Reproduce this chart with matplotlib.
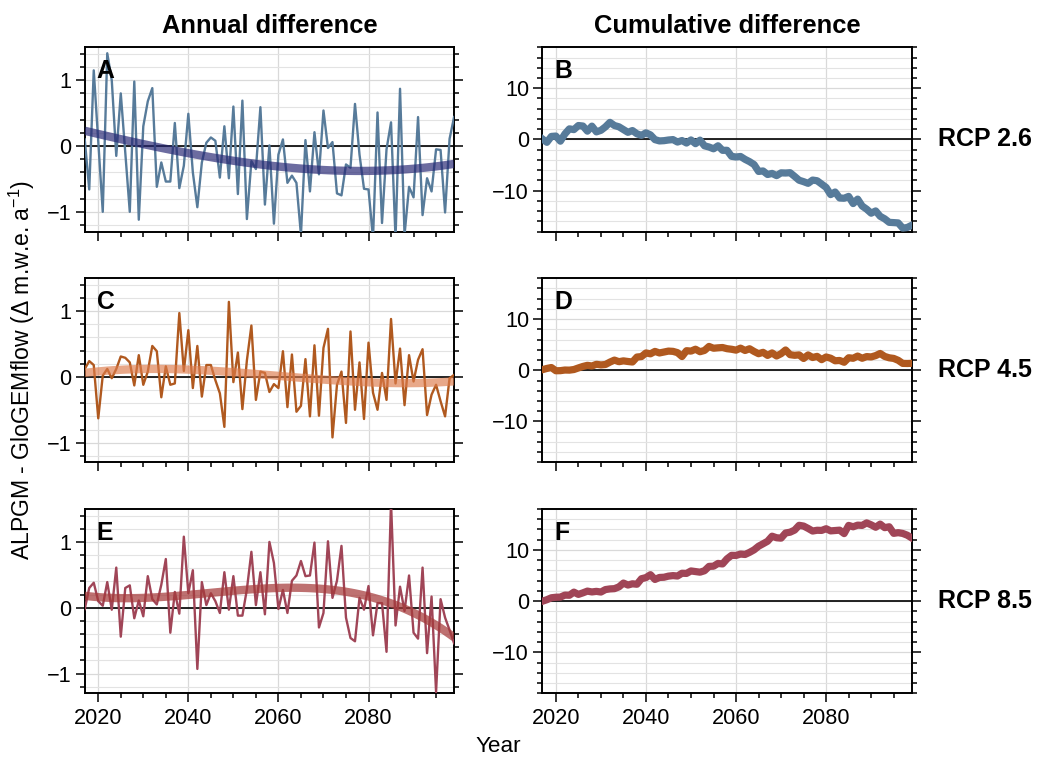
import numpy as np
import matplotlib
matplotlib.use('Agg')
import matplotlib.pyplot as plt
from matplotlib.ticker import MultipleLocator

plt.rcParams['font.family'] = ['Liberation Sans', 'DejaVu Sans']
plt.rcParams['mathtext.fontset'] = 'custom'
plt.rcParams['mathtext.rm'] = 'Liberation Sans'
plt.rcParams['mathtext.default'] = 'regular'
plt.rcParams['axes.unicode_minus'] = True

years = np.arange(2017, 2100)

# annual ALPGM - GloGEMflow difference (m w.e. a-1)
rcp26_annual = [
    0.10, -0.66, 1.15, 0.07, -1.00, 1.41, 1.00, -0.15, 0.80, -0.10,
    -1.00, 0.98, -1.12, 0.30, 0.68, 0.88, -0.62, -0.25, -0.54, -0.54,
    0.35, -0.64, -0.30, 0.49, -0.40, -0.93, -0.25, 0.05, 0.13, 0.08,
    -0.48, 0.30, -0.49, 0.60, -0.73, 0.69, -1.11, -0.23, -0.35, 0.59,
    -0.89, 0.01, -1.18, -0.13, 0.10, -0.56, -0.45, -0.56, -1.35, 0.09,
    -0.69, 0.21, -0.43, 0.54, -0.03, 0.06, -0.72, -0.75, -0.28, -0.33,
    0.64, -0.13, -0.65, -0.66, -1.40, 0.51, -1.17, -0.05, 0.36, -1.40,
    0.87, -1.35, -0.62, -0.78, 0.44, -1.05, -0.49, -0.69, -0.05, -0.06,
    -1.01, 0.11, 0.44,
]
rcp45_annual = [
    0.12, 0.24, 0.18, -0.63, 0.02, 0.12, -0.02, 0.12, 0.31, 0.29,
    0.22, -0.13, 0.33, -0.12, 0.08, 0.47, 0.39, -0.31, 0.16, -0.12,
    -0.10, 0.97, 0.09, 0.71, -0.17, 0.47, -0.30, 0.18, 0.18, -0.05,
    -0.25, -0.76, 1.14, -0.08, 0.37, -0.49, 0.25, 0.78, -0.35, 0.08,
    0.06, -0.23, -0.11, -0.17, 0.39, -0.46, 0.34, -0.53, -0.44, 0.27,
    -0.60, 0.48, -0.59, 0.44, 0.73, -0.92, -0.12, 0.08, -0.70, 0.69,
    -0.50, 0.22, -0.64, 0.52, -0.24, -0.50, 0.06, -0.35, 0.88, -0.10,
    0.43, -0.43, 0.33, -0.07, 0.26, 0.42, -0.58, -0.27, -0.12, -0.37,
    -0.60, -0.02, 0.03,
]
rcp85_annual = [
    -0.02, 0.30, 0.38, 0.10, 0.03, 0.39, -0.03, 0.61, -0.44, 0.30,
    0.34, -0.16, 0.11, -0.13, 0.48, 0.13, 0.05, 0.35, 0.74, -0.38,
    0.24, -0.09, 1.08, 0.22, 0.57, -0.93, 0.39, 0.04, 0.22, 0.10,
    -0.08, 0.54, -0.03, 0.48, -0.12, -0.12, 0.28, 0.85, 0.04, 0.54,
    -0.10, 1.00, 0.68, -0.02, 0.27, -0.08, 0.41, 0.49, 0.71, 0.48,
    0.49, 0.99, -0.30, -0.08, 1.01, 0.15, 0.41, 0.94, -0.15, -0.46,
    -0.51, 0.15, -0.03, 0.33, -0.42, 0.07, 0.07, -0.67, 1.60, -0.27,
    0.32, -0.05, 0.49, -0.38, -0.47, 0.61, -0.69, 0.17, -1.28, 0.13,
    -0.15, -0.34, -0.54,
]

scenarios = ['RCP 2.6', 'RCP 4.5', 'RCP 8.5']
letters = [['A', 'B'], ['C', 'D'], ['E', 'F']]
line_colors = ['#577b9a', '#b0591f', '#a04557']
trend_colors = ['#262673', '#dc7a4a', '#a53a3a']
trend_alpha = [0.68, 0.65, 0.72]

fig, axes = plt.subplots(3, 2, figsize=(5.205, 3.81), dpi=200, sharex=True)
fig.subplots_adjust(left=0.0814, right=0.8758, bottom=0.0902, top=0.9379,
                    wspace=0.239, hspace=0.253)

for i, annual in enumerate([rcp26_annual, rcp45_annual, rcp85_annual]):
    annual = np.array(annual)
    trend = np.polynomial.Polynomial.fit(years, annual, 3)(years)
    cumulative = np.cumsum(annual)

    ax1, ax2 = axes[i]
    ax1.plot(years, annual, color=line_colors[i], lw=0.85, zorder=3)
    ax1.plot(years, trend, color=trend_colors[i], lw=3.0, alpha=trend_alpha[i],
             solid_capstyle='butt', zorder=4)
    ax2.plot(years, cumulative, color=line_colors[i], lw=2.6, zorder=3)

    ax1.set_ylim(-1.3, 1.5)
    ax1.yaxis.set_major_locator(MultipleLocator(1))
    ax1.yaxis.set_minor_locator(MultipleLocator(0.2))
    ax2.set_ylim(-18, 18)
    ax2.yaxis.set_major_locator(MultipleLocator(10))
    ax2.yaxis.set_minor_locator(MultipleLocator(2))

    for j, ax in enumerate((ax1, ax2)):
        ax.axhline(0, color='black', lw=0.6, zorder=2.5)
        ax.set_xlim(2017, 2099)
        ax.xaxis.set_major_locator(MultipleLocator(20))
        ax.xaxis.set_minor_locator(MultipleLocator(5))
        ax.grid(True, which='major', color='#d9d9d9', lw=0.45, zorder=0)
        ax.yaxis.grid(True, which='minor', color='#e3e3e3', lw=0.4, zorder=0)
        ax.set_axisbelow(True)
        ax.tick_params(which='both', direction='out', width=0.55,
                       left=True, right=True, labelright=False, top=False,
                       labelsize=7.8, pad=1.5)
        ax.tick_params(which='major', length=3.3)
        ax.tick_params(which='minor', length=1.9)
        ax.tick_params(axis='x', pad=2)
        for s in ax.spines.values():
            s.set_linewidth(0.7)
        ax.text(0.032, 0.833, letters[i][j], transform=ax.transAxes,
                fontsize=8.9, fontweight='bold', ha='left', va='baseline')

    ax2.text(1.071, 0.5, scenarios[i], transform=ax2.transAxes,
             fontsize=9, fontweight='bold', ha='left', va='center')

axes[0, 0].set_title('Annual difference', fontsize=9.2, fontweight='bold', pad=5)
axes[0, 1].set_title('Cumulative difference', fontsize=9.2, fontweight='bold', pad=5)

fig.text(22 / 1041, 0.514, 'ALPGM - GloGEMflow ($\\Delta$ m.w.e. a$^{-1}$)',
         rotation=90, ha='center', va='center', fontsize=8.3)
fig.text(498 / 1041, 1 - 747 / 762, 'Year', ha='center', va='center', fontsize=8.1)

fig.savefig('out.png', dpi=200)
